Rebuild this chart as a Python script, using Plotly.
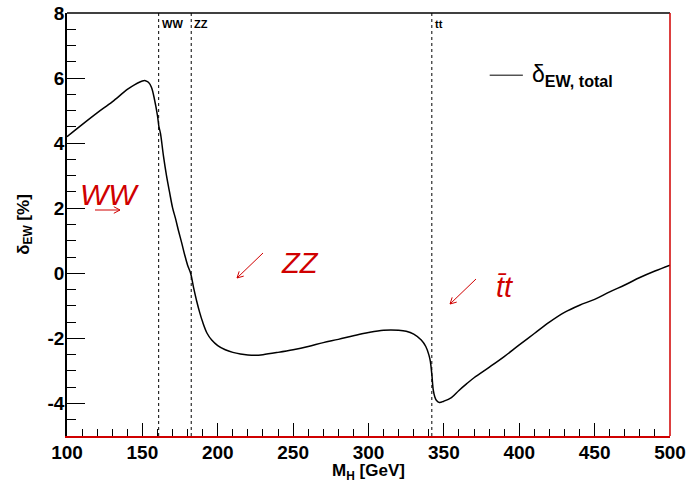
import plotly.graph_objects as go

# M_H [GeV]
mh = [100, 110, 120, 130, 140, 145, 150, 152, 154, 156, 158, 160, 161, 162, 164, 166, 168,
      170, 172, 174, 176, 178, 180, 182, 184, 186, 188, 190, 193, 196, 200, 205, 210, 215,
      220, 225, 230, 240, 250, 260, 270, 280, 290, 300, 310, 320, 325, 330, 335, 338, 340,
      341, 342, 343, 344, 345, 347, 350, 355, 360, 365, 370, 380, 390, 400, 410, 420, 430,
      440, 450, 460, 470, 480, 490, 500]
# delta_EW total [%]
delta = [4.20, 4.57, 4.93, 5.27, 5.65, 5.80, 5.91, 5.92, 5.87, 5.72, 5.35, 4.85, 4.50, 4.30,
         3.60, 3.00, 2.50, 2.02, 1.68, 1.30, 0.95, 0.58, 0.25, 0.00, -0.45, -0.85, -1.20,
         -1.50, -1.85, -2.05, -2.22, -2.35, -2.43, -2.48, -2.51, -2.52, -2.50, -2.43, -2.35,
         -2.25, -2.13, -2.03, -1.92, -1.82, -1.75, -1.75, -1.78, -1.87, -2.05, -2.25, -2.50,
         -2.70, -3.10, -3.60, -3.80, -3.90, -3.97, -3.93, -3.82, -3.60, -3.40, -3.21, -2.89,
         -2.56, -2.20, -1.85, -1.50, -1.20, -0.98, -0.80, -0.57, -0.36, -0.13, 0.07, 0.25]

thresholds = [160.8, 182.4, 342.0]
threshold_labels = ["WW", "ZZ", "tt"]

y_tickvals = [-4, -2, 0, 2, 4, 6, 8]
y_ticktext = ["-4", "-2", "0", "2", "4", "6", "8"]

FONT = "Liberation Sans, Arial, sans-serif"
RED = "#d00000"

# plot geometry (pixels) used only to convert arrow drawing offsets into data units
L, R, T, B = 67, 20, 13, 47
W, H = 690, 483
X0, X1, Y0, Y1 = 100, 500, -5, 8
pw, ph = W - L - R, H - T - B


def px2x(px):
    return X0 + (px - L) * (X1 - X0) / pw


def py2y(py):
    return Y1 - (py - T) * (Y1 - Y0) / ph


def arrow_path(tx, ty, hx, hy, head=7):
    import math
    ang = math.atan2(hy - ty, hx - tx)
    pts = []
    for d in (math.radians(28), -math.radians(28)):
        a = ang + math.pi + d
        pts.append((hx + head * math.cos(a), hy + head * math.sin(a)))
    p = "M %f,%f L %f,%f " % (px2x(tx), py2y(ty), px2x(hx), py2y(hy))
    p += "M %f,%f L %f,%f L %f,%f" % (px2x(pts[0][0]), py2y(pts[0][1]), px2x(hx), py2y(hy),
                                      px2x(pts[1][0]), py2y(pts[1][1]))
    return p


fig = go.Figure()
fig.add_trace(go.Scatter(x=mh, y=delta, mode="lines", line=dict(color="black", width=1.5),
                         line_shape="spline", showlegend=False))

for xv, lab in zip(thresholds, threshold_labels):
    fig.add_shape(type="line", x0=xv, x1=xv, y0=-5, y1=8, xref="x", yref="y",
                  line=dict(color="black", width=1, dash="dot"))
    fig.add_annotation(x=xv, y=7.9, xref="x", yref="y", text="<b>%s</b>" % lab,
                       showarrow=False, xanchor="left", yanchor="top", xshift=1,
                       font=dict(family=FONT, size=11, color="black"))

# frame: top black, right red
fig.add_shape(type="line", xref="paper", yref="paper", x0=0, x1=1, y0=1, y1=1,
              line=dict(color="black", width=1.5))
fig.add_shape(type="line", xref="paper", yref="paper", x0=1, x1=1, y0=0, y1=1,
              line=dict(color=RED, width=1.5))

# legend
fig.add_shape(type="line", xref="paper", yref="paper", x0=0.701, x1=0.756, y0=0.853, y1=0.853,
              line=dict(color="black", width=1))
fig.add_annotation(xref="paper", yref="paper", x=0.767, y=0.853, xanchor="left", yanchor="middle",
                   text="δ<sub><b>EW, total</b></sub>", showarrow=False,
                   font=dict(family=FONT, size=23, color="black"))

# red process labels and arrows
fig.add_annotation(x=128.5, y=2.43, text="<i>WW</i>", showarrow=False,
                   font=dict(family=FONT, size=30, color=RED))
fig.add_annotation(x=254.6, y=0.31, text="<i>ZZ</i>", showarrow=False,
                   font=dict(family=FONT, size=29, color=RED))
fig.add_annotation(x=390.5, y=-0.43, text="<i>t\u0304t</i>", showarrow=False,
                   font=dict(family=FONT, size=29, color=RED))
for (tx, ty, hx, hy) in [(95, 210, 120, 210), (263, 253, 237, 278), (476, 279, 450, 304)]:
    fig.add_shape(type="path", xref="x", yref="y", path=arrow_path(tx, ty, hx, hy),
                  line=dict(color=RED, width=1))

fig.update_xaxes(range=[X0, X1], dtick=50, tick0=100, ticks="inside", ticklen=13, tickwidth=1,
                 tickcolor="black", showline=True, linecolor=RED, linewidth=1.5, showgrid=False,
                 zeroline=False, automargin=False, ticklabelstandoff=-2,
                 minor=dict(dtick=10, ticks="inside", ticklen=7, tickcolor="black"),
                 tickfont=dict(family=FONT, size=19, color="black", weight="bold"),
                 title=dict(text="<b>M<sub>H</sub> [GeV]</b>", standoff=8,
                            font=dict(family=FONT, size=17, color="black")))
fig.update_yaxes(range=[Y0, Y1], tickmode="array", tickvals=y_tickvals, ticktext=y_ticktext,
                 ticks="inside", ticklen=18, tickwidth=1.2, automargin=False,
                 tickcolor="black", showline=True, linecolor="black", linewidth=1.5,
                 showgrid=False, zeroline=False, ticklabelstandoff=-3,
                 minor=dict(tickmode="linear", tick0=0, dtick=0.5, ticks="inside", ticklen=9,
                            tickcolor="black"),
                 tickfont=dict(family=FONT, size=19, color="black", weight="bold"),
                 title=dict(text="<b>δ<sub>EW</sub> [%]</b>", standoff=14,
                            font=dict(family=FONT, size=17, color="black")))

fig.update_layout(width=W, height=H, margin=dict(l=L, r=R, t=T, b=B),
                  plot_bgcolor="white", paper_bgcolor="white", showlegend=False)

fig.write_html("out.html")
